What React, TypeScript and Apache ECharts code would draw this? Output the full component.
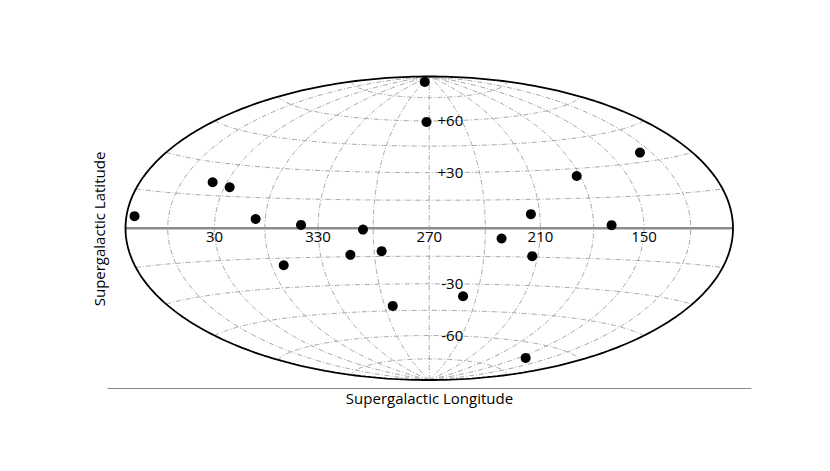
import React, { useEffect, useRef } from "react";
import * as echarts from "echarts";

// Supergalactic coordinates (degrees) of the plotted objects
const lonDeg = [84, 39.3, 26.7, 5.6, 339.5, 305.5, 294.6, 272.5, 128.1, 182.1, 214.9, 169.5, 352.8, 313.3, 295.9, 294.6, 231.1, 213.1, 248.6, 142.5];
const latDeg = [4.7, 21.0, 19.3, 4.5, 1.7, -0.7, 85.9, 59.4, 34.2, 26.2, 7.3, 1.5, -18.6, -14.0, -12.2, -42.2, -5.4, -14.5, -36.8, -67.5];

// tick labels
const lonTickValues = [30, 330, 270, 210, 150];
const lonTickLabels = ["30", "330", "270", "210", "150"];
const latTickValues = [60, 30, -30, -60];
const latTickLabels = ["+60", "+30", "-30", "-60"];

// graticule
const meridianLons = [0, 30, 60, 120, 150, 180, 210, 240, 270, 300, 330];
const parallelLats = [-75, -60, -45, -30, -15, 15, 30, 45, 60, 75];

const CENTER_LON = 270;
const FONT = "'Open Sans', 'DejaVu Sans', sans-serif";

function toLambda(lon: number): number {
  let l = CENTER_LON - lon;
  while (l > 180) l -= 360;
  while (l < -180) l += 360;
  return l;
}

function hammer(lamDeg: number, phiDeg: number): [number, number] {
  const l = (lamDeg * Math.PI) / 180;
  const p = (phiDeg * Math.PI) / 180;
  const d = Math.sqrt(1 + Math.cos(p) * Math.cos(l / 2));
  return [
    (2 * Math.SQRT2 * Math.cos(p) * Math.sin(l / 2)) / d,
    (Math.SQRT2 * Math.sin(p)) / d,
  ];
}

function range(a: number, b: number, step: number): number[] {
  const out: number[] = [];
  for (let v = a; v <= b + 1e-9; v += step) out.push(v);
  return out;
}

export default function App() {
  const ref = useRef<HTMLDivElement>(null);

  useEffect(() => {
    if (!ref.current) return;
    const chart = echarts.init(ref.current, undefined, { renderer: "svg" });

    const gridLineStyle = {
      color: "#a6a6a6",
      width: 1,
      type: [5, 2, 1, 2] as any,
    };

    const series: any[] = [];

    meridianLons.forEach((lon) => {
      const lam = toLambda(lon);
      series.push({
        type: "line",
        xAxisIndex: 0,
        yAxisIndex: 0,
        silent: true,
        symbol: "none",
        z: 1,
        lineStyle: gridLineStyle,
        data: range(-90, 90, 1).map((phi) => hammer(lam, phi)),
      });
    });

    parallelLats.forEach((lat) => {
      series.push({
        type: "line",
        xAxisIndex: 0,
        yAxisIndex: 0,
        silent: true,
        symbol: "none",
        z: 1,
        lineStyle: gridLineStyle,
        data: range(-180, 180, 2).map((lam) => hammer(lam, lat)),
      });
    });

    // equator
    series.push({
      type: "line",
      xAxisIndex: 0,
      yAxisIndex: 0,
      silent: true,
      symbol: "none",
      z: 2,
      clip: false,
      lineStyle: { color: "#8c8c8c", width: 2.5 },
      data: range(-180, 180, 10).map((lam) => hammer(lam, 0)),
    });

    // outline
    const outline = [
      ...range(-90, 90, 1).map((phi) => hammer(180, phi)),
      ...range(-90, 90, 1).reverse().map((phi) => hammer(-180, phi)),
    ];
    series.push({
      type: "line",
      xAxisIndex: 0,
      yAxisIndex: 0,
      silent: true,
      symbol: "none",
      z: 3,
      clip: false,
      lineStyle: { color: "#000", width: 1.8 },
      data: outline,
    });

    // points
    series.push({
      type: "scatter",
      xAxisIndex: 0,
      yAxisIndex: 0,
      z: 6,
      clip: false,
      symbol: "circle",
      symbolSize: 10,
      itemStyle: { color: "#000", opacity: 1 },
      data: lonDeg.map((lon, i) => hammer(toLambda(lon), latDeg[i])),
    });

    // longitude tick labels
    series.push({
      type: "scatter",
      xAxisIndex: 0,
      yAxisIndex: 0,
      z: 5,
      silent: true,
      clip: false,
      symbolSize: 1,
      itemStyle: { color: "rgba(0,0,0,0)", opacity: 1 },
      label: {
        show: true,
        position: "inside",
        offset: [0, 8],
        formatter: "{b}",
        color: "#000",
        opacity: 1,
        fontSize: 15,
        fontFamily: FONT,
      },
      data: lonTickValues.map((lon, i) => ({
        name: lonTickLabels[i],
        value: hammer(toLambda(lon), 0),
      })),
    });

    // latitude tick labels
    series.push({
      type: "scatter",
      xAxisIndex: 0,
      yAxisIndex: 0,
      z: 5,
      silent: true,
      clip: false,
      symbolSize: 1,
      itemStyle: { color: "rgba(0,0,0,0)", opacity: 1 },
      label: {
        show: true,
        position: "inside",
        align: "right",
        offset: [34, -1],
        formatter: "{b}",
        color: "#000",
        opacity: 1,
        fontSize: 15,
        fontFamily: FONT,
      },
      data: latTickValues.map((lat, i) => ({
        name: latTickLabels[i],
        value: hammer(0, lat),
      })),
    });

    chart.setOption({
      animation: false,
      backgroundColor: "#fff",
      grid: [
        { left: 125.5, top: 76.5, width: 607.5, height: 303.5 },
        { left: 108, top: 70, right: 79, bottom: 83 },
      ],
      xAxis: [
        {
          gridIndex: 0,
          type: "value",
          min: -2 * Math.SQRT2,
          max: 2 * Math.SQRT2,
          show: false,
        },
        {
          gridIndex: 1,
          type: "value",
          min: 0,
          max: 1,
          axisLine: { show: true, lineStyle: { color: "#888", width: 1 } },
          axisTick: { show: false },
          axisLabel: { show: false },
          splitLine: { show: false },
          name: "Supergalactic Longitude",
          nameLocation: "middle",
          nameGap: 2,
          nameTextStyle: {
            color: "#000",
            fontSize: 15,
            fontFamily: FONT,
            verticalAlign: "top",
          },
        },
      ],
      yAxis: [
        {
          gridIndex: 0,
          type: "value",
          min: -Math.SQRT2,
          max: Math.SQRT2,
          show: false,
        },
        {
          gridIndex: 1,
          type: "value",
          min: 0,
          max: 1,
          axisLine: { show: false },
          axisTick: { show: false },
          axisLabel: { show: false },
          splitLine: { show: false },
          name: "Supergalactic Latitude",
          nameLocation: "middle",
          nameRotate: 90,
          nameGap: 2,
          nameTextStyle: {
            color: "#000",
            fontSize: 15,
            fontFamily: FONT,
          },
        },
      ],
      series,
    });

    return () => chart.dispose();
  }, []);

  return (
    <div
      ref={ref}
      style={{
        position: "fixed",
        left: 0,
        top: 0,
        width: 830,
        height: 471,
        background: "#fff",
      }}
    />
  );
}
